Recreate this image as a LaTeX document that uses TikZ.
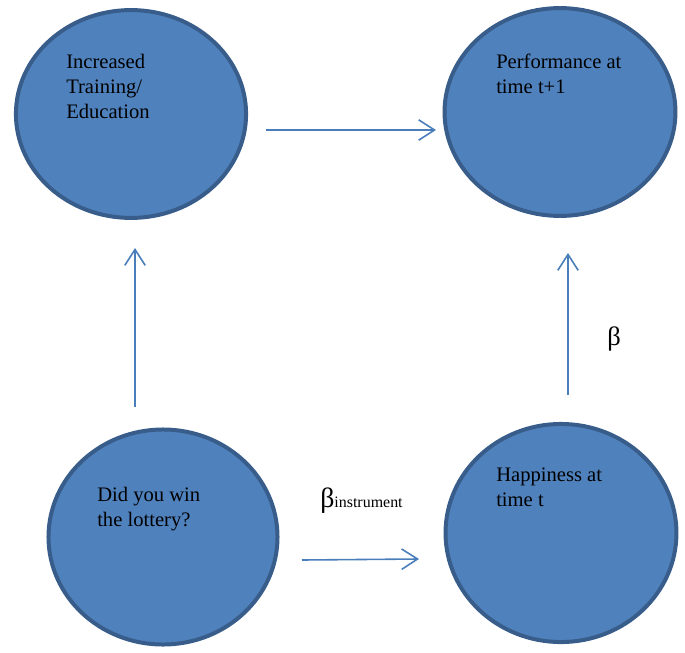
\documentclass[tikz,border=0pt]{standalone}
\usepackage{fontspec}
\setmainfont{Liberation Serif}
\usepackage{tikz}
\usetikzlibrary{positioning, shapes.geometric, arrows.meta}
\definecolor{relleno}{HTML}{4F81BD}
\definecolor{borde}{HTML}{385D8A}
\definecolor{linea}{HTML}{4A7EBB}

\begin{document}
\begin{tikzpicture}[
    x=0.02646cm, y=-0.02646cm,
    factor/.style={
        ellipse,
        draw=borde,
        fill=relleno,
        line width=3pt,
        inner sep=0pt,
    },
    texto/.style={
        anchor=base west,
        align=left,
        inner sep=0pt,
        font=\fontsize{15.5}{18.5}\selectfont,
    },
    rel/.style={-{Straight Barb[length=4.2mm, width=5.4mm]}, line width=1.2pt, color=linea},
    coef/.style={anchor=base west, inner sep=0pt},
]
\useasboundingbox (0,0) rectangle (685,652);

\node[factor, minimum width=6.09cm, minimum height=5.50cm] (train) at (131, 114) {};
\node[factor, minimum width=6.11cm, minimum height=5.50cm] (perf)  at (560, 112) {};
\node[factor, minimum width=6.06cm, minimum height=5.69cm] (lott)  at (163, 537) {};
\node[factor, minimum width=6.11cm, minimum height=5.77cm] (happy) at (561, 533) {};

% base = last line
\node[texto] (ttrain) at (66, 118) {Increased\\Training/\\Education};
\node[texto] (tperf)  at (496, 93) {Performance at\\time t+1};
\node[texto] (tlott)  at (97, 526) {Did you win\\the lottery?};
\node[texto] (thappy) at (496, 506) {Happiness at\\time t};

\coordinate (a1) at (266, 130); \coordinate (b1) at (436, 130);
\coordinate (a2) at (135, 407); \coordinate (b2) at (135, 248);
\coordinate (a3) at (568, 395); \coordinate (b3) at (568, 253);
\coordinate (a4) at (302, 560); \coordinate (b4) at (419, 559);

\draw[rel] (a1) -- (b1);
\draw[rel] (a2) -- (b2);
\draw[rel] (a3) -- (b3);
\draw[rel] (a4) -- (b4);

\node[coef] (beta)  at (607, 345) {\fontsize{20}{20}\selectfont β};
\node[coef] (binst) at (320, 507) {\fontsize{21}{21}\selectfont β\fontsize{12}{12}\selectfont instrument};

\end{tikzpicture}
\end{document}
